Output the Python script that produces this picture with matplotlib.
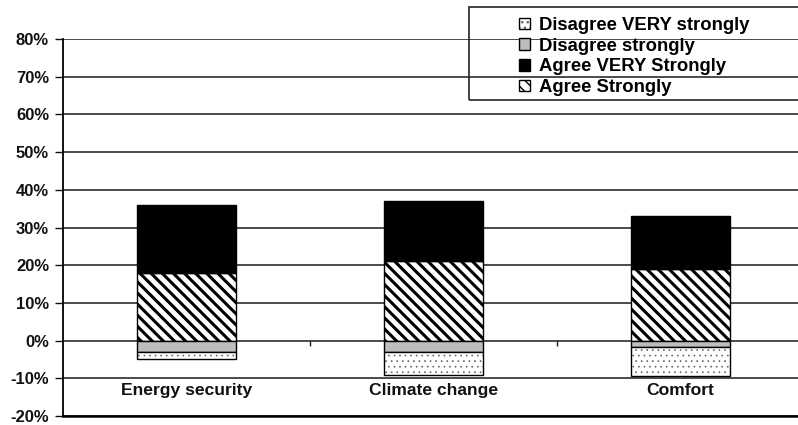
import numpy as np
import matplotlib
matplotlib.use("Agg")
import matplotlib.pyplot as plt
from matplotlib.patches import Rectangle
from matplotlib.ticker import FuncFormatter

plt.rcParams['font.family'] = ['Liberation Sans', 'DejaVu Sans']
plt.rcParams['font.weight'] = 'bold'

categories = ['Energy security', 'Climate change', 'Comfort']
agree_strongly = [18, 21, 19]
agree_very_strongly = [18, 16, 14]
disagree_strongly = [3, 3, 1.8]
disagree_very_strongly = [2, 6, 7.7]

W, H = 798, 425
fig = plt.figure(figsize=(W / 100, H / 100), dpi=100)
ax = fig.add_axes([63 / W, 9 / H, 741 / W, 377 / H])

x = np.arange(len(categories))
bw = 0.4
agree = np.array(agree_strongly)
dis1 = -np.array(disagree_strongly)
dis2 = -np.array(disagree_very_strongly)

# positive side: hatched "agree strongly" with solid black on top
with plt.rc_context({'hatch.linewidth': 2.2}):
    b_as = ax.bar(x, agree, bw, color='white', edgecolor='black', hatch='\\\\\\',
                  lw=1, zorder=3)
b_avs = ax.bar(x, agree_very_strongly, bw, bottom=agree, color='black',
               edgecolor='black', lw=1, zorder=3)
# negative side: grey band, then dotted band below it
b_ds = ax.bar(x, dis1, bw, color='#bdbdbd', edgecolor='black', lw=1, zorder=3)
with plt.rc_context({'hatch.linewidth': 0.5}):
    b_dvs_fill = ax.bar(x, dis2, bw, bottom=dis1, color='white', edgecolor='#666666',
                        hatch='...', lw=0, zorder=3)
b_dvs = ax.bar(x, dis2, bw, bottom=dis1, fill=False, edgecolor='black', lw=1, zorder=4)

ax.set_xlim(-0.5, 2.5)
ax.set_ylim(-20, 80)
ax.set_yticks(np.arange(-20, 81, 10))
ax.yaxis.set_major_formatter(FuncFormatter(lambda v, p: f'{v:.0f}%'))
ax.grid(axis='y', color='#1a1a1a', lw=1.1, zorder=0)
ax.set_axisbelow(True)
ax.tick_params(axis='y', length=6, width=1, pad=4, labelsize=12, colors='#111111')
ax.set_xticks([])
for s in ['top', 'right']:
    ax.spines[s].set_visible(False)
ax.spines['left'].set_linewidth(1.3)
ax.spines['bottom'].set_linewidth(1.8)

# small category separators on the zero line
ax.vlines(x[:-1] + 0.5, -1.5, 0, color='#1a1a1a', lw=1, zorder=2)

for xi, cat in zip(x, categories):
    ax.text(xi, -13.3, cat, ha='center', va='center', fontsize=12.6, fontweight='bold',
            color='#111111')

handles = [(b_dvs_fill[0], b_dvs[0]), b_ds[0], b_avs[0], b_as[0]]
labels = ['Disagree VERY strongly', 'Disagree strongly',
          'Agree VERY Strongly', 'Agree Strongly']
fig.legend(handles, labels, loc='upper left', bbox_to_anchor=(506 / W, 1 - 4 / H),
           frameon=False, prop={'size': 13.3, 'weight': 'bold'}, handlelength=0.6,
           handleheight=0.6, handletextpad=0.5, labelspacing=0.2, borderpad=0.2)
fig.patches.append(Rectangle((469 / W, 1 - 100 / H), 340 / W, 93 / H,
                             transform=fig.transFigure, fill=False,
                             edgecolor='#222222', lw=1.2, zorder=5))

fig.savefig('out.png', dpi=100)
